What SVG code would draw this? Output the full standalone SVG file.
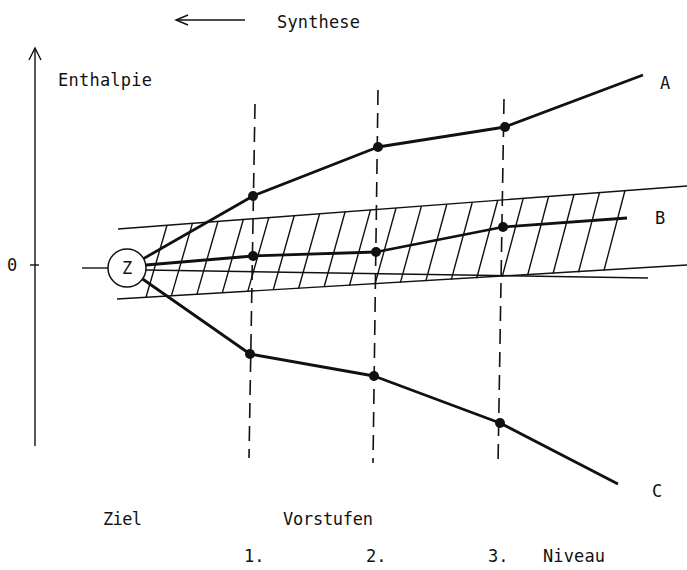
<svg xmlns="http://www.w3.org/2000/svg" width="687" height="570" viewBox="0 0 687 570">
<defs>
<style>
text{font-family:"DejaVu Sans Mono","Liberation Mono",monospace;font-size:17px;fill:#111}
.thick{stroke:#111;stroke-width:2.8;fill:none;stroke-linejoin:round}
.thin{stroke:#111;stroke-width:1.4;fill:none}
.dash{stroke:#111;stroke-width:1.6;stroke-dasharray:15 8;fill:none}
.dot{fill:#111}
</style>
</defs>
<rect width="687" height="570" fill="#fff"/>
<g id="axes">
<line class="thin" x1="35" y1="446" x2="35" y2="48"/>
<polyline class="thin" points="29,60 35,48 41,60"/>
<line class="thin" x1="30" y1="265" x2="39" y2="265"/>
<line class="thin" x1="82" y1="268" x2="108" y2="268"/>
<line class="thin" x1="176" y1="20" x2="245" y2="20"/>
<polyline class="thin" points="188,15 176,20 188,25"/>
</g>
<g id="band">
<line class="thin" x1="118" y1="229" x2="687" y2="186"/>
<line class="thin" x1="117" y1="299" x2="687" y2="265"/>
<line class="thin" x1="146" y1="270" x2="648" y2="278"/>
<path class="thin" d="M167,225.3L146,297.3M192.4,223.4L171.4,295.9M217.9,221.5L196.9,294.4M243.3,219.5L222.3,292.9M268.8,217.6L247.8,291.4M294.2,215.7L273.2,290M319.6,213.8L298.6,288.5M345.1,211.8L324.1,287M370.5,209.9L349.5,285.5M396,208L375,284.1M421.4,206.1L400.4,282.6M446.8,204.2L425.8,281.1M472.3,202.2L451.3,279.6M497.7,200.3L476.7,278.2M523.2,198.4L502.2,276.7M548.6,196.5L527.6,275.2M574,194.5L553,273.8M599.5,192.6L578.5,272.3M624.9,190.7L603.9,270.8"/>
</g>
<g id="levels">
<line class="dash" x1="255" y1="104" x2="249" y2="458"/>
<line class="dash" x1="378" y1="90" x2="373" y2="463"/>
<line class="dash" x1="504" y1="99" x2="498" y2="465"/>
</g>
<g id="Z">
<circle cx="127" cy="268" r="19" fill="#fff" stroke="#111" stroke-width="1.5"/>
<text x="127" y="274" text-anchor="middle">Z</text>
</g>
<g id="connectors">
<polyline id="pathA" class="thick" points="143.5,258.6 253,196 378,147 505,127 643,75"/>
<polyline id="pathB" class="thick" points="146,265 253,256 376,252 503,227 627,218"/>
<polyline id="pathC" class="thick" points="142.6,279 250,354 374,376 500,423 618,484"/>
<g class="dot">
<circle cx="253" cy="196" r="5"/><circle cx="378" cy="147" r="5"/><circle cx="505" cy="127" r="5"/>
<circle cx="253" cy="256" r="5"/><circle cx="376" cy="252" r="5"/><circle cx="503" cy="227" r="5"/>
<circle cx="250" cy="354" r="5"/><circle cx="374" cy="376" r="5"/><circle cx="500" cy="423" r="5"/>
</g>
</g>
<g id="labels">
<text x="277" y="28" textLength="83">Synthese</text>
<text x="58" y="86" textLength="94">Enthalpie</text>
<text x="7" y="271">0</text>
<text x="660" y="89">A</text>
<text x="655" y="224">B</text>
<text x="652" y="497">C</text>
<text x="103" y="525" textLength="39">Ziel</text>
<text x="283" y="525" textLength="90">Vorstufen</text>
<text x="244" y="562">1.</text>
<text x="366" y="562">2.</text>
<text x="488" y="562">3.</text>
<text x="543" y="562" textLength="62">Niveau</text>
</g>
</svg>
